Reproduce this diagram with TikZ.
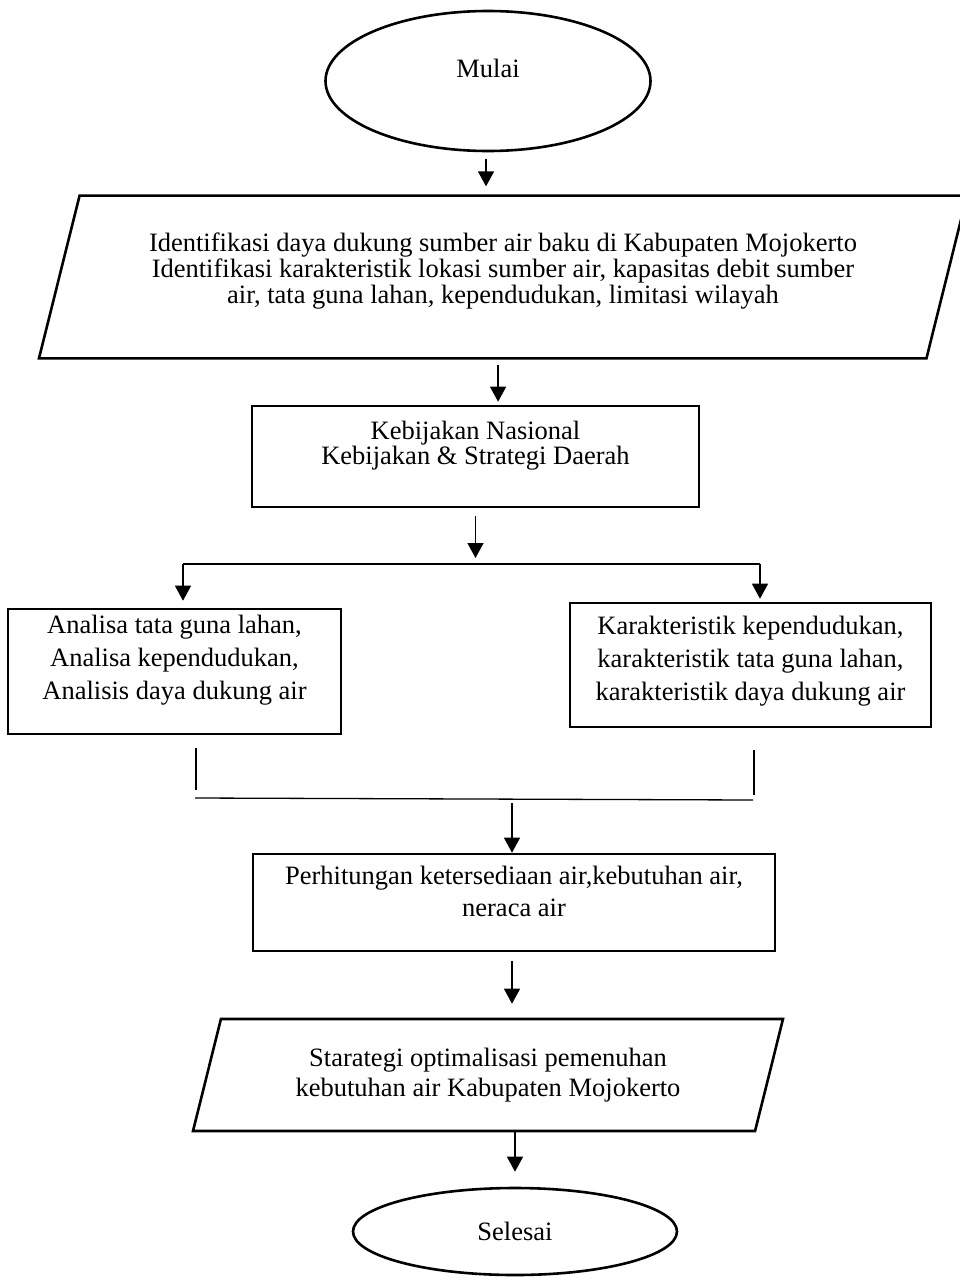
\documentclass[tikz,border=0pt]{standalone}
\usepackage{fontspec}
\setmainfont{Liberation Serif}
\usetikzlibrary{shapes.geometric,arrows.meta,positioning}
\tikzstyle{terminal}=[draw,ellipse,line width=2.6pt,inner sep=0pt]
\tikzstyle{process}=[draw,rectangle,line width=2.6pt,inner sep=0pt,align=center]
\tikzstyle{io}=[draw,trapezium,trapezium left angle=76,trapezium right angle=104,trapezium stretches body,line width=2.6pt,inner xsep=0pt,align=center]
\tikzstyle{link}=[line width=1.3pt]
\tikzstyle{flow}=[line width=1.3pt,-{Triangle[length=15pt,width=16pt]}]
\newcommand{\padbelow}[1]{\rule[-#1]{0pt}{#1}}

\begin{document}
\begin{tikzpicture}[x=1pt,y=-1pt]
\useasboundingbox (0,0) rectangle (959,1280);

\node [terminal,minimum width=325pt,minimum height=140pt,font=\fontsize{26.5}{30}\selectfont] (start) at (488,81) {Mulai\padbelow{26pt}};
\node [io,inner ysep=37pt,minimum width=928pt,minimum height=162pt,font=\fontsize{26.5}{26}\selectfont] (ident) at (503,277)
  {Identifikasi daya dukung sumber air baku di Kabupaten Mojokerto\\
   Identifikasi karakteristik lokasi sumber air, kapasitas debit sumber\\
   air, tata guna lahan, kependudukan, limitasi wilayah\padbelow{18pt}};
\node [process,minimum width=447pt,minimum height=101pt,font=\fontsize{26.5}{25}\selectfont] (kebij) at (475.5,456.5)
  {Kebijakan Nasional\\Kebijakan \& Strategi Daerah\padbelow{28pt}};
\node [process,minimum width=333pt,minimum height=125pt,font=\fontsize{26.5}{33}\selectfont] (ana) at (174.5,671.5)
  {Analisa tata guna lahan,\\Analisa kependudukan,\\Analisis daya dukung air\padbelow{29pt}};
\node [process,minimum width=361pt,minimum height=124pt,font=\fontsize{26.5}{33}\selectfont] (kar) at (750.5,665)
  {Karakteristik kependudukan,\\karakteristik tata guna lahan,\\karakteristik daya dukung air\padbelow{14pt}};
\node [process,minimum width=522pt,minimum height=97pt,font=\fontsize{26.5}{32}\selectfont] (perhit) at (514,902.5)
  {Perhitungan ketersediaan air,kebutuhan air,\\neraca air\padbelow{23pt}};
\node [io,inner ysep=29pt,minimum width=590pt,minimum height=112pt,font=\fontsize{26.5}{30}\selectfont] (strat) at (488,1075)
  {Starategi optimalisasi pemenuhan\\kebutuhan air Kabupaten Mojokerto};
\node [terminal,minimum width=324pt,minimum height=87pt,font=\fontsize{26.5}{30}\selectfont] (finish) at (515,1231.5) {Selesai};

\coordinate (brL) at (183,564);
\coordinate (brR) at (760,564);
\coordinate (jL) at (196,790);
\coordinate (jR) at (754,795);
\coordinate (mL) at (195,798);
\coordinate (mR) at (753,800);
\coordinate (mid) at (512,799);

\draw [flow,shorten <=7pt,shorten >=8pt] ([xshift=-2pt]start.south) -- ([xshift=-2pt]start.south |- ident.north);
\draw [flow,shorten <=5pt,shorten >=3pt] ([xshift=-5pt]ident.south) -- ([xshift=-5pt]ident.south |- kebij.north);
\draw [flow,shorten <=8pt,shorten >=6pt] (kebij.south) -- (kebij.south |- brL);
\draw [link] (brL) -- (brR);
\draw [flow,shorten >=7pt] (brL) -- (brL |- ana.north);
\draw [flow,shorten >=3pt] (brR) -- (brR |- kar.north);
\draw [link,shorten <=13pt] (jL |- ana.south) -- (jL);
\draw [link,shorten <=22pt] (jR |- kar.south) -- (jR);
\draw [link] (mL) -- (mR);
\draw [flow,shorten <=4pt] (mid) -- (mid |- perhit.north);
\draw [flow,shorten <=9pt,shorten >=14pt] ([xshift=-2pt]perhit.south) -- ([xshift=-2pt]perhit.south |- strat.north);
\draw [flow,shorten >=15pt] (finish.north |- strat.south) -- (finish.north);
\end{tikzpicture}
\end{document}
